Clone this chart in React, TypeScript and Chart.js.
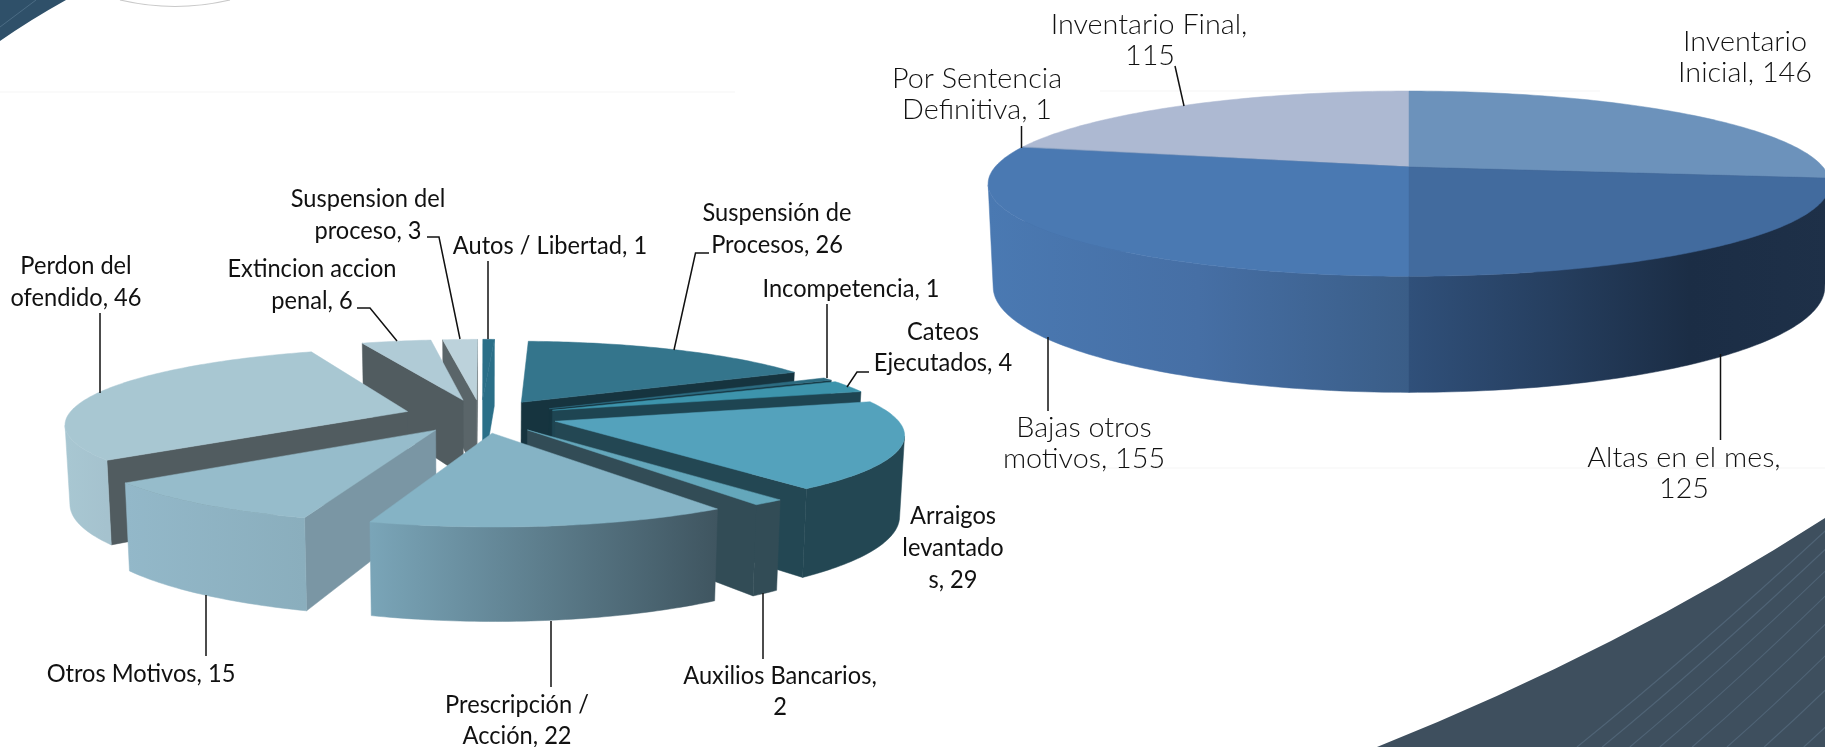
import React, { useEffect, useRef } from "react";
import { Chart, registerables } from "chart.js";

Chart.register(...registerables);

// ---------- data ----------
const leftCategories = [
  "Suspensión de Procesos", "Incompetencia", "Cateos Ejecutados", "Arraigos levantados",
  "Auxilios Bancarios", "Prescripción / Acción", "Otros Motivos", "Perdon del ofendido",
  "Extincion accion penal", "Suspension del proceso", "Autos / Libertad",
];
const leftValues = [26, 1, 4, 29, 2, 22, 15, 46, 6, 3, 1];
const rightCategories = ["Inventario Inicial", "Altas en el mes", "Bajas otros motivos", "Por Sentencia Definitiva", "Inventario Final"];
const rightValues = [146, 125, 155, 1, 115];

// ---------- styles ----------
const leftTop = ["#34758c", "#2c6b80", "#3d94ac", "#54a2bc", "#64a7bb", "#85b3c5", "#96bccb", "#a8c7d2", "#b0cbd6", "#bcd2db", "#2a6f88"];
const leftRim = [["#16343f", "#16343f"], ["#15343f", "#15343f"], ["#1e4552", "#1e4552"], ["#234753", "#234753"], ["#324c56", "#324c56"], ["#7aa5b8", "#3f5560"], ["#93b8c9", "#8aaebd"], ["#a8c7d2", "#a5c2ce"], ["#b0cbd6", "#b0cbd6"], ["#bcd2db", "#bcd2db"], ["#2a6f88", "#2a6f88"]];
const leftCut = ["#16343f", "#15343f", "#1e4552", "#234753", "#324c56", "#4a6470", "#7a96a4", "#515c60", "#515c60", "#5a6569", "#2a6f88"];
const rightTop = ["#6c92bb", "#426b9e", "#4a79b2", "#8fa5c4", "#adb9d2"];
const rightRim = [["#1e3048", "#1e3048"], ["#30507a", "#263f60", "#1b2d45", "#1e3048"], ["#4a79b2", "#466fa5", "#3a5d87"], ["#4a7ab3", "#4a7ab3"], ["#adb9d2", "#adb9d2"]];
const rightCut = ["#1e3048", "#1e3048", "#3a5d87", "#3a5d87", "#7d8aa5"];

const leftGeom = { X0: 481, Y0: 416, A: 340, B: 74, k: 0.15, H: 78, Ab: 336, Bb: 85 };
const rightGeom = { X0: 1409, Y0: 167, A: 414, B: 89.6, k: 0.18, H: 101, Ab: 409, Bb: 102 };

const LEFT_FONT = { font: "25px Lato", sx: 0.945, color: "#111" };
const RIGHT_FONT = { font: "300 27px Lato", sx: 1.065, color: "#111" };

const leftLabels: [string, number, number][] = [
  ["Perdon del", 76, 266], ["ofendido, 46", 76, 298],
  ["Extincion accion", 312, 269], ["penal, 6", 312, 301],
  ["Suspension del", 368, 199], ["proceso, 3", 368, 231],
  ["Autos / Libertad, 1", 550, 246],
  ["Suspensión de", 777, 213], ["Procesos, 26", 777, 245],
  ["Incompetencia, 1", 851, 289],
  ["Cateos", 943, 332], ["Ejecutados, 4", 943, 363],
  ["Arraigos", 953, 516], ["levantado", 953, 548], ["s, 29", 953, 580],
  ["Otros Motivos, 15", 141, 674],
  ["Prescripción /", 517, 705], ["Acción, 22", 517, 736],
  ["Auxilios Bancarios,", 780, 676], ["2", 780, 707],
];
const rightLabels: [string, number, number][] = [
  ["Inventario Final,", 1149, 25], ["115", 1150, 56],
  ["Por Sentencia", 977, 79], ["Definitiva, 1", 977, 110],
  ["Inventario", 1745, 42], ["Inicial, 146", 1745, 73],
  ["Bajas otros", 1084, 428], ["motivos, 155", 1084, 459],
  ["Altas en el mes,", 1684, 458], ["125", 1684, 489],
];
const leftLeaders: number[][][] = [
  [[100, 313], [100, 393]],
  [[357, 308], [370, 308], [397, 341]],
  [[427, 237], [439, 237], [460, 339]],
  [[488, 261], [488, 339]],
  [[709, 253], [695.5, 253], [674, 350]],
  [[827, 304], [827, 378]],
  [[869, 372], [857, 372], [847, 387]],
  [[763, 593], [763, 659]],
  [[551, 621], [551, 687]],
  [[206, 595], [206, 656]],
];
const rightLeaders: number[][][] = [
  [[1175, 66], [1184, 106]],
  [[1021.5, 126], [1021.5, 148]],
  [[1048, 337], [1048, 411]],
  [[1720.5, 354], [1720.5, 440]],
];

// ---------- drawing ----------
function drawDecor(ctx: CanvasRenderingContext2D) {
  ctx.save();
  // faint bands
  ctx.fillStyle = "#fafafa";
  ctx.fillRect(0, 91, 735, 2);
  ctx.fillRect(1090, 467, 735, 2);
  ctx.fillRect(1100, 90, 500, 2);
  // bottom right swoosh
  ctx.beginPath();
  ctx.moveTo(1377, 747);
  ctx.quadraticCurveTo(1620, 650, 1825, 518);
  ctx.lineTo(1825, 747);
  ctx.closePath();
  ctx.fillStyle = "#3e4f5e";
  ctx.fill();
  ctx.save();
  ctx.clip();
  ctx.strokeStyle = "#4f6375";
  ctx.lineWidth = 1.2;
  for (let i = 0; i < 12; i++) {
    const x = 1577 + i * 24 + i * i * 1.2;
    ctx.beginPath();
    ctx.moveTo(x, 747);
    ctx.quadraticCurveTo(x + 120 - i * 2, 650, x + 260 - i * 6, 520);
    ctx.stroke();
  }
  ctx.restore();
  // top left corner
  ctx.beginPath();
  ctx.moveTo(0, 0);
  ctx.lineTo(66, 0);
  ctx.quadraticCurveTo(30, 20, 0, 41);
  ctx.closePath();
  ctx.fillStyle = "#2f5069";
  ctx.fill();
  ctx.strokeStyle = "#4c6c84";
  ctx.lineWidth = 1;
  ctx.beginPath();
  ctx.moveTo(0, 27);
  ctx.lineTo(36, 0);
  ctx.stroke();
  // logo arc
  ctx.beginPath();
  ctx.moveTo(120, 0);
  ctx.quadraticCurveTo(175, 13, 230, 0);
  ctx.strokeStyle = "#c9c9c9";
  ctx.lineWidth = 1.2;
  ctx.stroke();
  ctx.restore();
}

function pie3dPlugin(geom: any, rims: string[][], cuts: string[], labels: [string, number, number][], leaders: number[][][], style: any, decor: boolean) {
  const top = (u: number, v: number) => {
    const s = 1 / (1 - geom.k * v);
    return [geom.X0 + geom.A * u * s, geom.Y0 + geom.B * v * s];
  };
  const bot = (u: number, v: number) => {
    const s = 1 / (1 - geom.k * v);
    return [geom.X0 + geom.Ab * u * s, geom.Y0 + geom.H + geom.Bb * v * s];
  };
  const fillPoly = (ctx: CanvasRenderingContext2D, pts: number[][], fill: any) => {
    ctx.beginPath();
    pts.forEach((p, i) => (i ? ctx.lineTo(p[0], p[1]) : ctx.moveTo(p[0], p[1])));
    ctx.closePath();
    ctx.fillStyle = fill;
    ctx.fill();
    ctx.strokeStyle = fill;
    ctx.lineWidth = 0.5;
    ctx.stroke();
  };
  return {
    id: "pie3d",
    beforeDraw(chart: any) {
      if (decor) drawDecor(chart.ctx);
    },
    beforeDatasetsDraw(chart: any) {
      const ctx: CanvasRenderingContext2D = chart.ctx;
      const arcs = chart.getDatasetMeta(0).data.map((el: any, i: number) => ({ el, i }));
      const camV = 1 / geom.k;
      const items = arcs.map(({ el, i }: any) => {
        const mid = (el.startAngle + el.endAngle) / 2;
        const fr = (el.options.offset || 0) / el.outerRadius;
        return { el, i, mid, ou: Math.cos(mid) * fr, ov: Math.sin(mid) * fr };
      });
      items.sort((a: any, b: any) => Math.sin(a.mid) - Math.sin(b.mid));
      for (const it of items) {
        const { el, i, ou, ov } = it;
        const a0 = el.startAngle, a1 = el.endAngle;
        const n = Math.max(2, Math.ceil(((a1 - a0) * 180) / Math.PI));
        const angles: number[] = [];
        for (let j = 0; j <= n; j++) angles.push(a0 + ((a1 - a0) * j) / n);
        const ring = (a: number) => [Math.cos(a) + ou, Math.sin(a) + ov];
        // cut faces
        const cutFace = (a: number, sign: number) => {
          const nu = -Math.sin(a) * sign, nv = Math.cos(a) * sign;
          if ((0 - ou) * nu + (camV - ov) * nv <= 1e-6) return;
          const [ru, rv] = ring(a);
          fillPoly(ctx, [top(ou, ov), top(ru, rv), bot(ru, rv), bot(ou, ov)], cuts[i]);
        };
        cutFace(a0, -1);
        cutFace(a1, 1);
        // rim
        const vis = angles.filter((a) => Math.sin(a) / geom.k > 1 + ou * Math.cos(a) + ov * Math.sin(a));
        if (vis.length > 1) {
          const upper = vis.map((a) => top(...(ring(a) as [number, number])));
          const lower = vis.map((a) => bot(...(ring(a) as [number, number]))).reverse();
          const xs = upper.map((p) => p[0]);
          const g = ctx.createLinearGradient(Math.min(...xs), 0, Math.max(...xs) + 1e-3, 0);
          // rim colours run left to right across the slice
          rims[i].forEach((c, j) => g.addColorStop(j / (rims[i].length - 1), c));
          fillPoly(ctx, [...upper, ...lower], g);
        }
        // top face
        fillPoly(ctx, [top(ou, ov), ...angles.map((a) => top(...(ring(a) as [number, number])))], el.options.backgroundColor);
      }
      return false;
    },
    afterDraw(chart: any) {
      const ctx: CanvasRenderingContext2D = chart.ctx;
      ctx.save();
      ctx.strokeStyle = "#111";
      ctx.lineWidth = 1.5;
      leaders.forEach((l) => {
        ctx.beginPath();
        l.forEach((p, i) => (i ? ctx.lineTo(p[0], p[1]) : ctx.moveTo(p[0], p[1])));
        ctx.stroke();
      });
      ctx.font = style.font;
      ctx.fillStyle = style.color;
      ctx.textAlign = "center";
      ctx.textBaseline = "middle";
      labels.forEach(([t, x, y]) => {
        ctx.save();
        ctx.translate(x, y);
        ctx.scale(style.sx, 1);
        ctx.fillText(t, 0, 0);
        ctx.restore();
      });
      ctx.restore();
    },
  };
}

function makeChart(canvas: HTMLCanvasElement, labels: string[], values: number[], colors: string[], rotation: number, offset: number, plugin: any) {
  return new Chart(canvas, {
    type: "pie",
    data: { labels, datasets: [{ data: values, backgroundColor: colors, borderWidth: 0, offset }] },
    options: {
      responsive: false,
      animation: false,
      rotation,
      layout: { padding: 0 },
      plugins: { legend: { display: false }, tooltip: { enabled: false }, title: { display: false } },
    },
    plugins: [plugin],
  } as any);
}

const canvasStyle: React.CSSProperties = { position: "absolute", left: 0, top: 0, display: "block" };

export default function App() {
  const a = useRef<HTMLCanvasElement>(null);
  const b = useRef<HTMLCanvasElement>(null);
  useEffect(() => {
    const c1 = makeChart(a.current!, leftCategories, leftValues, leftTop, 2.4, 76,
      pie3dPlugin(leftGeom, leftRim, leftCut, leftLabels, leftLeaders, LEFT_FONT, true));
    const c2 = makeChart(b.current!, rightCategories, rightValues, rightTop, 0, 0,
      pie3dPlugin(rightGeom, rightRim, rightCut, rightLabels, rightLeaders, RIGHT_FONT, false));
    return () => { c1.destroy(); c2.destroy(); };
  }, []);
  return (
    <div>
      <canvas ref={a} width={1825} height={747} style={canvasStyle} />
      <canvas ref={b} width={1825} height={747} style={canvasStyle} />
    </div>
  );
}
